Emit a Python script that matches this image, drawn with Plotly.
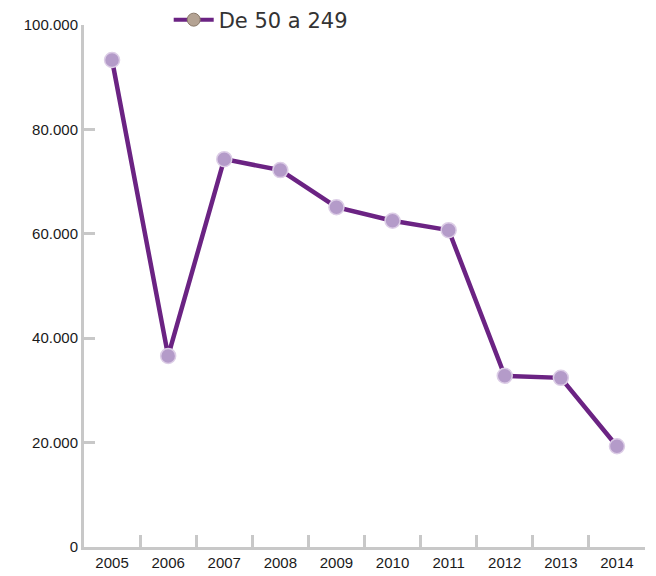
import plotly.graph_objects as go

years = ["2005", "2006", "2007", "2008", "2009", "2010", "2011", "2012", "2013", "2014"]
values = [93300, 36600, 74300, 72200, 65100, 62500, 60700, 32800, 32400, 19300]
series_name = "De 50 a 249"
y_ticks = [0, 20000, 40000, 60000, 80000, 100000]

fig = go.Figure()
fig.add_trace(go.Scatter(
    x=years, y=values, mode="lines+markers", showlegend=False,
    line=dict(color="#6b2383", width=4.5),
    marker=dict(size=15, color="#b49bc9", line=dict(color="#dccde6", width=1.5)),
))
fig.add_trace(go.Scatter(
    x=[None], y=[None], mode="lines+markers", name=series_name,
    line=dict(color="#6b2383", width=4),
    marker=dict(size=13, color="#b4a393", line=dict(color="#8a7a6a", width=1)),
))

fig.update_layout(
    width=648, height=568,
    margin=dict(l=76, r=11, t=17, b=29, autoexpand=False),
    paper_bgcolor="white", plot_bgcolor="white",
    separators=",.",
    font=dict(family="Open Sans, Liberation Sans, sans-serif", color="#333333"),
    showlegend=True,
    legend=dict(xref="container", yref="container", x=0.248, y=1 - 12 / 568,
                xanchor="left", yanchor="middle", orientation="h",
                font=dict(size=21, family="DejaVu Sans, sans-serif", color="#333333"),
                bgcolor="rgba(0,0,0,0)", itemwidth=40),
    xaxis=dict(
        type="category", tickson="boundaries", ticks="inside", ticklen=12,
        tickwidth=2.5, tickcolor="#c8c8c8", showline=True, linecolor="#c8c8c8",
        linewidth=3, showgrid=False, automargin=False,
        tickfont=dict(size=15, color="#1a1a1a", family="Liberation Sans, sans-serif"),
        range=[-0.5, 9.5],
    ),
    yaxis=dict(
        range=[0, 100000], tickvals=y_ticks, tickformat=",d", ticks="inside",
        ticklen=11, tickwidth=2.5, tickcolor="#c8c8c8", showline=True,
        linecolor="#c8c8c8", linewidth=3, showgrid=False, zeroline=False,
        automargin=False,
        tickfont=dict(size=15, color="#1a1a1a", family="Liberation Sans, sans-serif"),
    ),
)

fig.write_html("out.html")
